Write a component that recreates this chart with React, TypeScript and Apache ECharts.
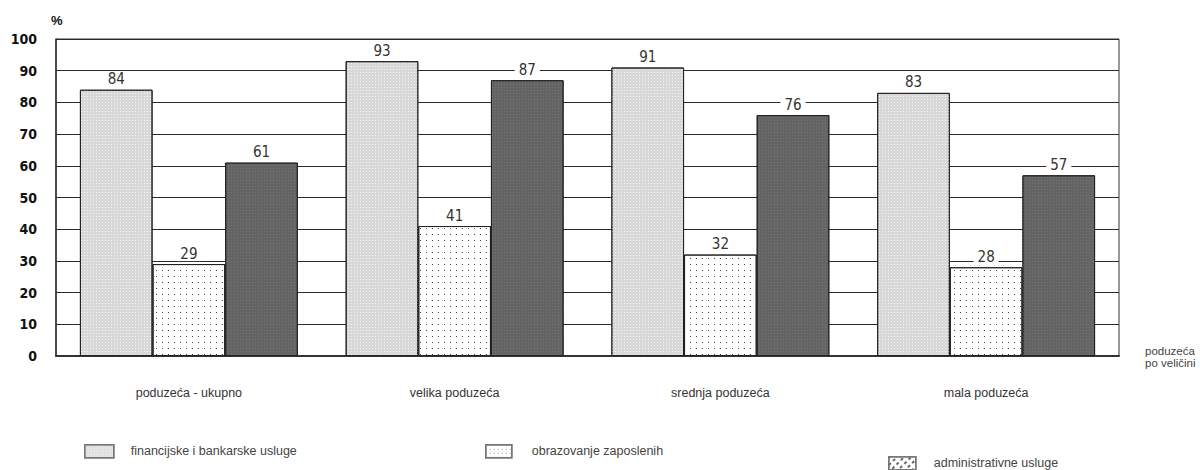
import React, { useEffect, useRef } from "react";
import * as echarts from "echarts";

const categories = ["poduzeća - ukupno", "velika poduzeća", "srednja poduzeća", "mala poduzeća"];
const seriesNames = ["financijske i bankarske usluge", "obrazovanje zaposlenih", "administrativne usluge"];
const financijske = [84, 93, 91, 83];
const obrazovanje = [29, 41, 32, 28];
const administrativne = [61, 87, 76, 57];
const yTicks = [0, 10, 20, 30, 40, 50, 60, 70, 80, 90, 100];

const NARROW = "'DejaVu Sans Condensed', 'Liberation Sans Narrow', 'Liberation Sans', sans-serif";
const SANS = "'Liberation Sans', Arial, sans-serif";

export default function App() {
  const ref = useRef<HTMLDivElement>(null);
  useEffect(() => {
    if (!ref.current) return;
    const chart = echarts.init(ref.current, undefined, { renderer: "svg" });
    const label = {
      show: true,
      position: "top",
      distance: 3,
      color: "#333",
      fontSize: 15,
      fontFamily: NARROW,
      backgroundColor: "#fff",
      padding: [0, 4, 0, 4],
    };
    const dotDecal = {
      symbol: "rect",
      symbolSize: 1,
      color: "#444",
      dashArrayX: [1, 5],
      dashArrayY: [1, 5],
      rotation: 0,
    };
    const lightDecal = {
      symbol: "rect",
      symbolSize: 1,
      color: "#f4f4f4",
      dashArrayX: [1, 2],
      dashArrayY: [1, 2],
      rotation: 0,
    };
    const darkDecal = {
      symbol: "rect",
      symbolSize: 1,
      color: "#767676",
      dashArrayX: [1, 2],
      dashArrayY: [1, 2],
      rotation: 0,
    };
    const legendBase = {
      orient: "horizontal",
      icon: "rect",
      itemHeight: 13,
      selectedMode: false,
    };
    const legendText = (pad: number) => ({
      color: "#444",
      fontSize: 12.5,
      fontFamily: SANS,
      padding: [0, 0, 0, pad],
    });
    chart.setOption({
      animation: false,
      backgroundColor: "#fff",
      grid: {
        left: 56,
        right: 81,
        top: 39,
        bottom: 114,
        show: true,
        borderColor: "#333",
        borderWidth: 1,
      },
      legend: [
        {
          ...legendBase,
          left: 79,
          top: 439,
          itemWidth: 29,
          textStyle: legendText(12),
          data: [
            {
              name: seriesNames[0],
              itemStyle: { color: "#e0e0e0", borderColor: "#777", borderWidth: 1.5 },
            },
          ],
        },
        {
          ...legendBase,
          left: 480,
          top: 439,
          itemWidth: 26,
          textStyle: legendText(15),
          data: [
            {
              name: seriesNames[1],
              itemStyle: { color: "#fff", borderColor: "#777", borderWidth: 1.5, decal: { ...dotDecal, color: "#999", dashArrayX: [1, 3], dashArrayY: [1, 3] } },
            },
          ],
        },
        {
          ...legendBase,
          left: 883,
          top: 451,
          itemWidth: 27,
          textStyle: legendText(13),
          data: [
            {
              name: seriesNames[2],
              itemStyle: {
                color: "#fff",
                borderColor: "#777",
                borderWidth: 1.5,
                decal: { symbol: "rect", symbolSize: 1, color: "#666", dashArrayX: [[3, 3]], dashArrayY: [2, 3], rotation: -Math.PI / 4 },
              },
            },
          ],
        },
      ],
      xAxis: {
        type: "category",
        data: categories,
        axisLine: { show: true, lineStyle: { color: "#333", width: 2 } },
        axisTick: { show: false },
        axisLabel: {
          margin: 30,
          color: "#333",
          fontSize: 12.5,
          fontFamily: SANS,
        },
      },
      yAxis: {
        type: "value",
        min: yTicks[0],
        max: yTicks[yTicks.length - 1],
        interval: 10,
        name: "%",
        nameLocation: "end",
        nameGap: 12,
        nameTextStyle: {
          color: "#111",
          fontSize: 13,
          fontWeight: "bold",
          fontFamily: SANS,
          align: "left",
          padding: [0, 0, 0, -5],
        },
        axisLine: { show: true, lineStyle: { color: "#333", width: 1.5 } },
        axisTick: { show: false },
        axisLabel: {
          margin: 19,
          color: "#111",
          fontSize: 14,
          fontWeight: "bold",
          fontFamily: NARROW,
        },
        splitLine: { show: true, lineStyle: { color: "#2a2a2a", width: 1.2 } },
      },
      series: [
        {
          name: seriesNames[0],
          type: "bar",
          data: financijske,
          barGap: "0%",
          barCategoryGap: "18%",
          itemStyle: { color: "#d8d8d8", borderColor: "#222", borderWidth: 1, decal: lightDecal },
          label,
        },
        {
          name: seriesNames[1],
          type: "bar",
          data: obrazovanje,
          barGap: "0%",
          barCategoryGap: "18%",
          itemStyle: { color: "#fff", borderColor: "#222", borderWidth: 1, decal: dotDecal },
          label,
        },
        {
          name: seriesNames[2],
          type: "bar",
          data: administrativne,
          barGap: "0%",
          barCategoryGap: "18%",
          itemStyle: { color: "#646464", borderColor: "#222", borderWidth: 1, decal: darkDecal },
          label,
        },
      ],
      graphic: [
        {
          type: "text",
          left: 1145,
          top: 345,
          style: {
            text: "poduzeća\npo veličini",
            fill: "#444",
            fontSize: 11.5,
            lineHeight: 12,
            fontFamily: SANS,
          },
        },
      ],
    });
    return () => chart.dispose();
  }, []);
  return <div ref={ref} style={{ position: "fixed", left: 0, top: 0, width: 1200, height: 470 }} />;
}
